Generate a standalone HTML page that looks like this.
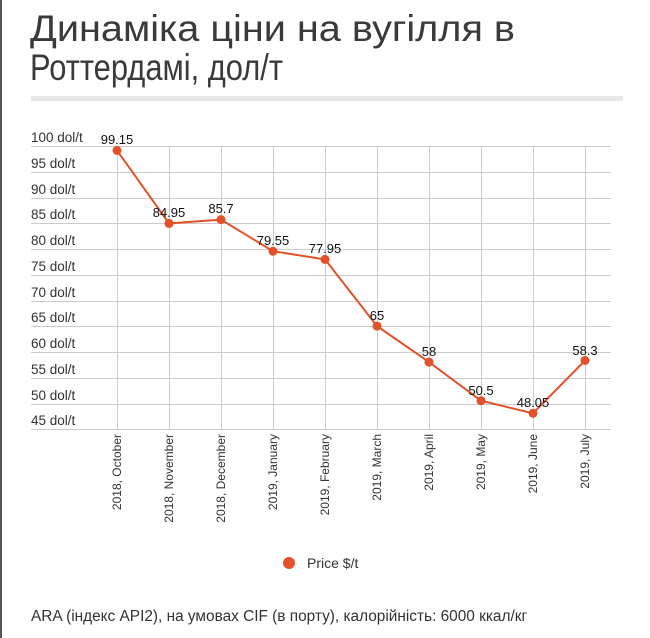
<!DOCTYPE html>
<html><head><meta charset="utf-8"><style>
html,body{margin:0;padding:0;background:#fff;}
svg{display:block;font-family:"Liberation Sans",sans-serif;}
</style></head><body>
<svg width="650" height="638" viewBox="0 0 650 638">
<rect x="0" y="0" width="2" height="638" fill="#555"/>
<text x="30" y="41" font-size="37" fill="#3a3a3a" textLength="485" lengthAdjust="spacingAndGlyphs">Динаміка ціни на вугілля в</text>
<text x="30" y="80" font-size="37" fill="#3a3a3a" textLength="253" lengthAdjust="spacingAndGlyphs">Роттердамі, дол/т</text>
<rect x="31" y="96" width="592" height="5" fill="#e6e6e6"/>
<g stroke="#ccc" stroke-width="1">
<line x1="31" y1="146.5" x2="611" y2="146.5"/>
<line x1="31" y1="172.5" x2="611" y2="172.5"/>
<line x1="31" y1="198.5" x2="611" y2="198.5"/>
<line x1="31" y1="223.5" x2="611" y2="223.5"/>
<line x1="31" y1="249.5" x2="611" y2="249.5"/>
<line x1="31" y1="275.5" x2="611" y2="275.5"/>
<line x1="31" y1="301.5" x2="611" y2="301.5"/>
<line x1="31" y1="326.5" x2="611" y2="326.5"/>
<line x1="31" y1="352.5" x2="611" y2="352.5"/>
<line x1="31" y1="378.5" x2="611" y2="378.5"/>
<line x1="31" y1="404.5" x2="611" y2="404.5"/>
<line x1="31" y1="429.5" x2="611" y2="429.5"/>
<line x1="117.5" y1="146" x2="117.5" y2="430"/>
<line x1="169.5" y1="146" x2="169.5" y2="430"/>
<line x1="221.5" y1="146" x2="221.5" y2="430"/>
<line x1="273.5" y1="146" x2="273.5" y2="430"/>
<line x1="325.5" y1="146" x2="325.5" y2="430"/>
<line x1="377.5" y1="146" x2="377.5" y2="430"/>
<line x1="429.5" y1="146" x2="429.5" y2="430"/>
<line x1="481.5" y1="146" x2="481.5" y2="430"/>
<line x1="533.5" y1="146" x2="533.5" y2="430"/>
<line x1="585.5" y1="146" x2="585.5" y2="430"/>
</g>
<g font-size="13.5" fill="#333">
<text x="31" y="142">100 dol/t</text>
<text x="31" y="168">95 dol/t</text>
<text x="31" y="194">90 dol/t</text>
<text x="31" y="219">85 dol/t</text>
<text x="31" y="245">80 dol/t</text>
<text x="31" y="271">75 dol/t</text>
<text x="31" y="297">70 dol/t</text>
<text x="31" y="322">65 dol/t</text>
<text x="31" y="348">60 dol/t</text>
<text x="31" y="374">55 dol/t</text>
<text x="31" y="400">50 dol/t</text>
<text x="31" y="425">45 dol/t</text>
</g>
<g font-size="12" fill="#333" text-anchor="end">
<text transform="translate(121,434) rotate(-90)">2018, October</text>
<text transform="translate(173,434) rotate(-90)">2018, November</text>
<text transform="translate(225,434) rotate(-90)">2018, December</text>
<text transform="translate(277,434) rotate(-90)">2019, January</text>
<text transform="translate(329,434) rotate(-90)">2019, February</text>
<text transform="translate(381,434) rotate(-90)">2019, March</text>
<text transform="translate(433,434) rotate(-90)">2019, April</text>
<text transform="translate(485,434) rotate(-90)">2019, May</text>
<text transform="translate(537,434) rotate(-90)">2019, June</text>
<text transform="translate(589,434) rotate(-90)">2019, July</text>
</g>
<polyline fill="none" stroke="#e2512a" stroke-width="2" points="117,150.4 169,223.4 221,219.6 273,251.2 325,259.4 377,326.1 429,362.1 481,400.7 533,413.3 585,360.5"/>
<g fill="#e2512a">
<circle cx="117" cy="150.4" r="4.5"/><circle cx="169" cy="223.4" r="4.5"/><circle cx="221" cy="219.6" r="4.5"/><circle cx="273" cy="251.2" r="4.5"/><circle cx="325" cy="259.4" r="4.5"/><circle cx="377" cy="326.1" r="4.5"/><circle cx="429" cy="362.1" r="4.5"/><circle cx="481" cy="400.7" r="4.5"/><circle cx="533" cy="413.3" r="4.5"/><circle cx="585" cy="360.5" r="4.5"/>
</g>
<g font-size="13" fill="#111" text-anchor="middle">
<text x="117" y="144">99.15</text>
<text x="169" y="217">84.95</text>
<text x="221" y="213">85.7</text>
<text x="273" y="245">79.55</text>
<text x="325" y="253">77.95</text>
<text x="377" y="320">65</text>
<text x="429" y="356">58</text>
<text x="481" y="395">50.5</text>
<text x="533" y="407">48.05</text>
<text x="585" y="355">58.3</text>
</g>
<circle cx="289" cy="563" r="6" fill="#e2512a"/>
<text x="307" y="568" font-size="14" fill="#333">Price $/t</text>
<text x="31" y="621" font-size="15.4" fill="#333">ARA (індекс API2), на умовах CIF (в порту), калорійність: 6000 ккал/кг</text>
</svg>
</body></html>
